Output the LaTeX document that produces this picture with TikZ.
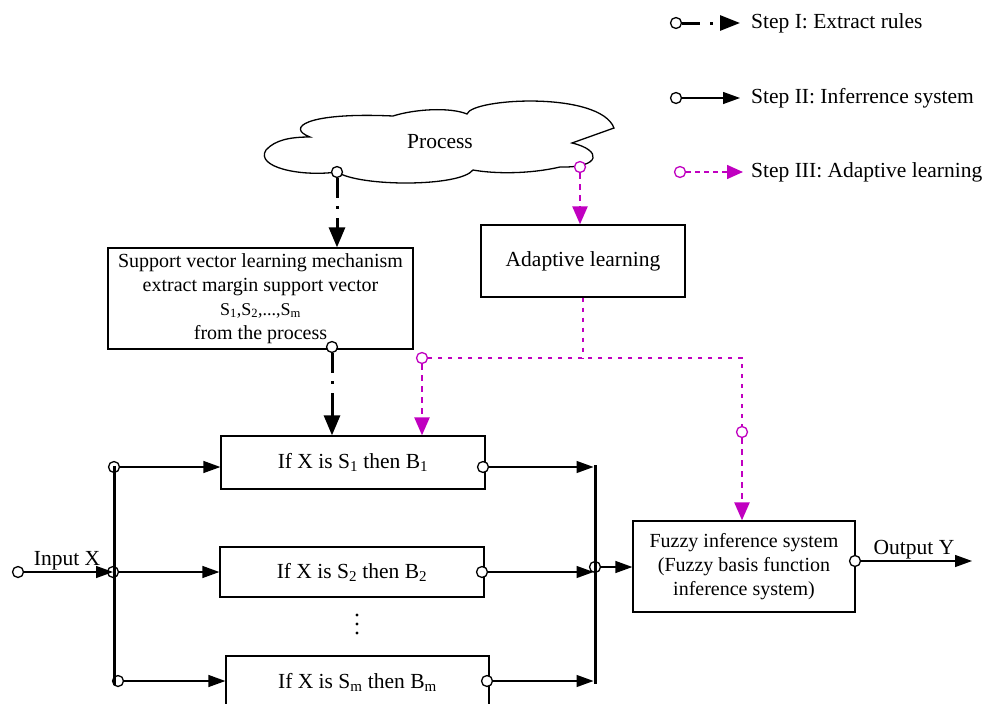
\documentclass[tikz,border=0pt]{standalone}
\usepackage{fontspec}
\setmainfont{Liberation Serif}
\usetikzlibrary{arrows.meta}
\definecolor{mag}{RGB}{192,0,192}
\begin{document}
\begin{tikzpicture}[x=1pt,y=-1pt,
 every node/.style={font=\fontsize{21.5}{24}\selectfont},
 box/.style={draw, line width=1.3pt, inner sep=0pt, align=center},
 port/.style={circle, draw, fill=white, line width=1.3pt, inner sep=0pt, minimum size=11pt},
 mport/.style={port, draw=mag},
 flow/.style={line width=1.3pt, -{Triangle[length=17pt,width=12pt]}},
 extract/.style={line width=3pt, -{Triangle[length=20pt,width=16pt]}, dash pattern=on 20pt off 8pt on 3pt off 9pt on 400pt off 0pt},
 adapt/.style={mag, line width=2.5pt, dash pattern=on 6pt off 5pt, -{Triangle[length=18pt,width=15pt]}},
 adaptline/.style={mag, line width=2.2pt, dash pattern=on 4pt off 6pt},
 bus/.style={line width=3pt},
 legtext/.style={anchor=west, inner sep=0pt}
]
\useasboundingbox (0,0) rectangle (1002,704);

% cloud
\draw[line width=1.3pt, fill=white]
 (266,150) .. controls (275,140) and (290,137) .. (310,137)
 .. controls (286,128) and (305,112) .. (393,116)
 .. controls (415,109) and (450,107) .. (467,114)
 .. controls (472,98) and (600,91) .. (614,128)
 -- (572,143)
 .. controls (602,150) and (602,168) .. (560,167)
 .. controls (530,174) and (495,174) .. (473,170)
 .. controls (460,187) and (360,187) .. (337,172)
 .. controls (300,177) and (255,167) .. (266,150) -- cycle;
\node (proc) at (440,142) {Process};

% boxes
\node[box, minimum width=305pt, minimum height=101pt] (sv) at (260.5,298.5)
 {\fontsize{20}{22.5}\selectfont Support vector learning mechanism\\
  \fontsize{20}{22.5}\selectfont extract margin support vector\\
  \fontsize{18}{22.5}\selectfont S\textsubscript{1},S\textsubscript{2},...,S\textsubscript{m}\\
  \fontsize{20}{22.5}\selectfont from the process};
\node[box, minimum width=204pt, minimum height=72pt] (al) at (583,261) {Adaptive learning};
\node[box, minimum width=264pt, minimum height=53pt] (r1) at (353,462.5) {If X is S\textsubscript{1} then B\textsubscript{1}};
\node[box, minimum width=264pt, minimum height=50pt] (r2) at (352,572) {If X is S\textsubscript{2} then B\textsubscript{2}};
\node[box, minimum width=263pt, minimum height=53pt] (rm) at (357.5,682.5) {If X is S\textsubscript{m} then B\textsubscript{m}};
\node[box, minimum width=222pt, minimum height=91pt] (fz) at (744,566.5)
 {\fontsize{20}{22.5}\selectfont Fuzzy inference system\\
  \fontsize{20}{22.5}\selectfont (Fuzzy basis function\\
  \fontsize{20}{22.5}\selectfont inference system)};

% dots
\fill (357,615) circle (1.6pt) (357,624) circle (1.6pt) (357,633) circle (1.6pt);

% ports
\node[port] (pc1) at (337,172) {};
\node[mport] (pc2) at (580,167) {};
\node[port] (psv) at (332,347) {};
\node[mport] (pj1) at (422,358) {};
\node[mport] (pj2) at (742,432) {};
\node[port] (pl1) at (114,467) {};
\node[port] (pl2) at (113,572) {};
\node[port] (pl3) at (118,681) {};
\node[port] (pr1) at (483,467) {};
\node[port] (pr2) at (482,572) {};
\node[port] (pr3) at (487,681) {};
\node[port] (pin) at (18,572) {};
\node[port] (pbus) at (595,567) {};
\node[port] (pout) at (855,561) {};

% buses
\coordinate (lbt) at (114,466);
\coordinate (lbb) at (114,685);
\coordinate (rbt) at (595,465);
\coordinate (rbb) at (595,684);
\draw[bus] (lbt) -- (lbb);
\draw[bus] (rbt) -- (rbb);

% step I
\draw[extract] (pc1.south) -- (pc1.south |- sv.north);
\draw[extract] (psv.south) -- (psv.south |- r1.north);

% step III
\draw[adapt] (pc2.south) -- (pc2.south |- al.north);
\coordinate (aj) at (583,358);
\coordinate (ac) at (742,358);
\draw[adaptline] (al.south) -- (aj);
\draw[adaptline] (pj1.east) -- (ac) -- (pj2.north);
\draw[adapt] (pj1.south) -- (pj1.south |- r1.north);
\draw[adapt] (pj2.south) -- (pj2.south |- fz.north);

% step II
\draw[flow] (pin.east) -- (pl2.center);
\node (inx) at (67,561) {Input X};
\draw[flow] (pl1.east) -- (r1.west |- pl1);
\draw[flow] (pl2.east) -- (r2.west |- pl2);
\draw[flow] (pl3.east) -- (rm.west |- pl3);
\draw[flow, shorten >=1.5pt] (pr1.east) -- (pr1 -| rbt);
\draw[flow, shorten >=1.5pt] (pr2.east) -- (pr2 -| rbt);
\draw[flow, shorten >=1.5pt] (pr3.east) -- (pr3 -| rbt);
\draw[flow] (pbus.east) -- (fz.west |- pbus);
\coordinate (yend) at (972,561);
\draw[flow] (pout.east) -- (yend);
\node (outy) at (914,550) {Output Y};

% legend
\node[port] (lg1) at (676,23) {};
\coordinate (lg1e) at (740,23);
\draw[line width=3pt, -{Triangle[length=20pt,width=15pt]}, dash pattern=on 18pt off 10pt on 3pt off 8pt on 100pt off 0pt] (lg1.east) -- (lg1e);
\node[legtext] (t1) at (751,23) {Step I: Extract rules};
\node[port] (lg2) at (676,98) {};
\coordinate (lg2e) at (740,98);
\draw[flow] (lg2.east) -- (lg2e);
\node[legtext] (t2) at (751,98) {Step II: Inferrence system};
\node[mport] (lg3) at (680,172) {};
\coordinate (lg3e) at (743,172);
\draw[mag, line width=1.5pt, dash pattern=on 5pt off 4pt, -{Triangle[length=16pt,width=14pt]}] (lg3.east) -- (lg3e);
\node[legtext] (t3) at (751,172) {Step III: Adaptive learning};
\end{tikzpicture}
\end{document}
